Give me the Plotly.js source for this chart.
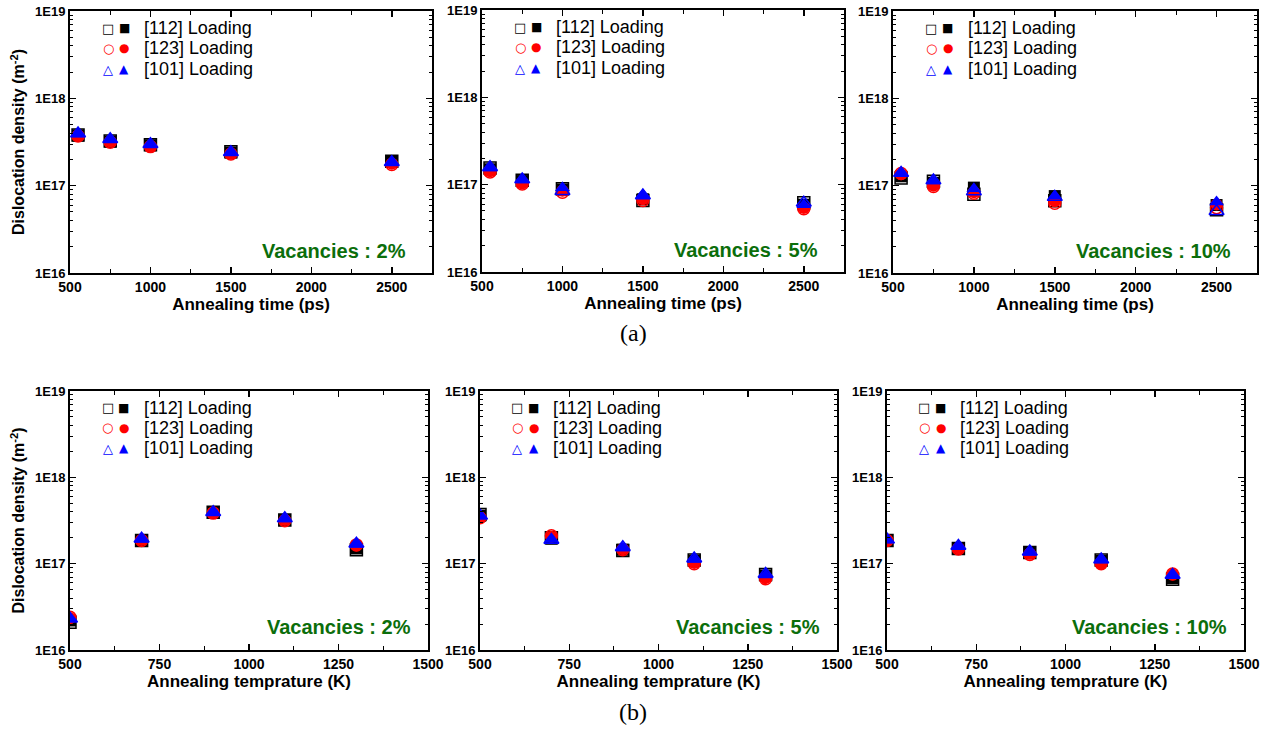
<!DOCTYPE html>
<html>
<head>
<meta charset="utf-8">
<script src="https://cdn.plot.ly/plotly-3.0.1.min.js"></script>
<style>html,body{margin:0;padding:0;background:#fff;}#chart{width:1273px;height:731px;}</style>
</head>
<body>
<div id="chart"></div>
<script>
// ---- Data ----
const timeX = [550, 750, 1000, 1500, 2500];
const tempX = [500, 700, 900, 1100, 1300];

// (a) Annealing time, Vacancies 2%
const a2_112_open = [3.8e17, 3.25e17, 2.95e17, 2.45e17, 1.9e17];
const a2_112_fill = [3.75e17, 3.2e17, 2.9e17, 2.4e17, 1.88e17];
const a2_123_open = [3.7e17, 3.15e17, 2.8e17, 2.3e17, 1.75e17];
const a2_123_fill = [3.72e17, 3.2e17, 2.82e17, 2.32e17, 1.78e17];
const a2_101_open = [3.95e17, 3.4e17, 2.98e17, 2.42e17, 1.85e17];
const a2_101_fill = [3.9e17, 3.35e17, 2.95e17, 2.4e17, 1.85e17];
// (a) Vacancies 5%
const a5_112_open = [1.55e17, 1.12e17, 9.0e16, 6.6e16, 6.2e16];
const a5_112_fill = [1.5e17, 1.1e17, 8.8e16, 6.8e16, 5.9e16];
const a5_123_open = [1.4e17, 1.02e17, 8.2e16, 6.6e16, 5.3e16];
const a5_123_fill = [1.42e17, 1.03e17, 8.5e16, 6.8e16, 5.4e16];
const a5_101_open = [1.58e17, 1.15e17, 8.4e16, 7.5e16, 6.2e16];
const a5_101_fill = [1.55e17, 1.13e17, 9.2e16, 7.6e16, 5.9e16];
// (a) Vacancies 10%
const a10_112_open = [1.22e17, 1.12e17, 8.0e16, 6.7e16, 5.3e16];
const a10_112_fill = [1.28e17, 1.08e17, 9.5e16, 7.6e16, 6.0e16];
const a10_123_open = [1.38e17, 0.98e17, 8.2e16, 6.3e16, 5.6e16];
const a10_123_fill = [1.35e17, 1.0e17, 8.4e16, 6.6e16, 6.1e16];
const a10_101_open = [1.4e17, 1.15e17, 8.6e16, 7.4e16, 5.1e16];
const a10_101_fill = [1.38e17, 1.13e17, 9.2e16, 7.6e16, 6.5e16];
// (b) Annealing temperature, Vacancies 2%
const b2_112_open = [2.1e16, 1.85e17, 3.95e17, 3.2e17, 1.45e17];
const b2_112_fill = [2.2e16, 1.85e17, 3.9e17, 3.2e17, 1.5e17];
const b2_123_open = [2.4e16, 1.85e17, 3.85e17, 3.15e17, 1.65e17];
const b2_123_fill = [2.35e16, 1.88e17, 3.9e17, 3.2e17, 1.62e17];
const b2_101_open = [2.3e16, 1.95e17, 3.95e17, 3.35e17, 1.7e17];
const b2_101_fill = [2.3e16, 1.92e17, 3.95e17, 3.3e17, 1.68e17];
// (b) Vacancies 5%
const b5_112_open = [3.7e17, 2.0e17, 1.42e17, 1.1e17, 7.5e16];
const b5_112_fill = [3.6e17, 1.95e17, 1.45e17, 1.08e17, 7.3e16];
const b5_123_open = [3.4e17, 2.1e17, 1.45e17, 1.0e17, 6.7e16];
const b5_123_fill = [3.45e17, 2.05e17, 1.47e17, 1.02e17, 6.8e16];
const b5_101_open = [3.6e17, 1.88e17, 1.55e17, 1.15e17, 7.6e16];
const b5_101_fill = [3.6e17, 1.9e17, 1.52e17, 1.12e17, 7.4e16];
// (b) Vacancies 10%
const b10_112_open = [1.85e17, 1.5e17, 1.35e17, 1.1e17, 6.6e16];
const b10_112_fill = [1.88e17, 1.52e17, 1.33e17, 1.08e17, 6.8e16];
const b10_123_open = [1.85e17, 1.48e17, 1.28e17, 1.0e17, 7.6e16];
const b10_123_fill = [1.86e17, 1.5e17, 1.3e17, 1.0e17, 7.5e16];
const b10_101_open = [1.9e17, 1.6e17, 1.38e17, 1.12e17, 7.4e16];
const b10_101_fill = [1.88e17, 1.58e17, 1.35e17, 1.1e17, 7.3e16];

const seriesNames = ['[112] Loading', '[123] Loading', '[101] Loading'];
const vacancyLabels = ['Vacancies : 2%', 'Vacancies : 5%', 'Vacancies : 10%'];
const yTickVals = [1e16, 1e17, 1e18, 1e19];
const yTickText = ['1E16', '1E17', '1E18', '1E19'];

// ---- Build ----
const panels = [
  {x: timeX, s: [[a2_112_open, a2_112_fill], [a2_123_open, a2_123_fill], [a2_101_open, a2_101_fill]]},
  {x: timeX, s: [[a5_112_open, a5_112_fill], [a5_123_open, a5_123_fill], [a5_101_open, a5_101_fill]]},
  {x: timeX, s: [[a10_112_open, a10_112_fill], [a10_123_open, a10_123_fill], [a10_101_open, a10_101_fill]]},
  {x: tempX, s: [[b2_112_open, b2_112_fill], [b2_123_open, b2_123_fill], [b2_101_open, b2_101_fill]]},
  {x: tempX, s: [[b5_112_open, b5_112_fill], [b5_123_open, b5_123_fill], [b5_101_open, b5_101_fill]]},
  {x: tempX, s: [[b10_112_open, b10_112_fill], [b10_123_open, b10_123_fill], [b10_101_open, b10_101_fill]]}
];
const colors = ['#000000', '#ff0000', '#0000ff'];
const symbols = ['square', 'circle', 'triangle-up'];
const sizes = [12, 12, 13];

const domainsX = [[70,432],[482,844],[893,1257],[70,428],[480,837],[887,1244]];
const domainsY = [[11,273],[10,272],[11,273],[391,650],[391,650],[391,650]];
const W = 1273, H = 731;

const minorY = [];
for (let e = 16; e < 19; e++) for (let m = 2; m <= 9; m++) minorY.push(m * Math.pow(10, e));

const traces = [];
const baseFont = 'Liberation Sans, Arial, sans-serif';
const layout = {
  width: W, height: H,
  margin: {l: 0, r: 0, t: 0, b: 0},
  paper_bgcolor: '#fff', plot_bgcolor: '#fff',
  showlegend: false,
  font: {family: baseFont, color: '#000'},
  annotations: []
};

panels.forEach((p, i) => {
  const n = i + 1;
  const xa = 'x' + (n === 1 ? '' : n), ya = 'y' + (n === 1 ? '' : n);
  const xk = 'xaxis' + (n === 1 ? '' : n), yk = 'yaxis' + (n === 1 ? '' : n);
  p.s.forEach((pair, k) => {
    traces.push({x: p.x, y: pair[0], xaxis: xa, yaxis: ya, type: 'scatter', mode: 'markers',
      name: seriesNames[k] + ' open',
      marker: {symbol: symbols[k] + '-open', size: sizes[k], color: colors[k], line: {width: 1.5, color: colors[k]}}});
    traces.push({x: p.x, y: pair[1], xaxis: xa, yaxis: ya, type: 'scatter', mode: 'markers',
      name: seriesNames[k],
      marker: {symbol: symbols[k], size: sizes[k], color: colors[k], line: {width: 0}}});
  });
  const isTime = i < 3;
  const dx = domainsX[i], dy = domainsY[i];
  layout[xk] = {
    domain: [dx[0] / W, dx[1] / W],
    anchor: ya,
    range: isTime ? [500, 2750] : [500, 1500],
    tickmode: 'linear', tick0: 500, dtick: isTime ? 500 : 250,
    ticks: 'inside', ticklen: 6, tickwidth: 1.5, tickcolor: '#000',
    minor: {dtick: isTime ? 250 : 125, tick0: 500, ticks: 'inside', ticklen: 4, tickwidth: 1, tickcolor: '#000', showgrid: false},
    showline: true, linewidth: 2, linecolor: '#000', mirror: 'allticks',
    showgrid: false, zeroline: false,
    tickfont: {family: baseFont, size: 14, color: '#000', weight: 'bold'},
    title: {text: isTime ? 'Annealing time (ps)' : 'Annealing temprature (K)',
      font: {family: baseFont, size: 17, color: '#000', weight: 'bold'}, standoff: 2}
  };
  layout[yk] = {
    domain: [1 - dy[1] / H, 1 - dy[0] / H],
    anchor: xa,
    type: 'log', range: [16, 19],
    tickmode: 'array', tickvals: yTickVals, ticktext: yTickText,
    ticks: 'inside', ticklen: 6, tickwidth: 1.5, tickcolor: '#000',
    minor: {tickmode: 'array', tickvals: minorY, ticks: 'inside', ticklen: 3, tickwidth: 1, tickcolor: '#000', showgrid: false},
    showline: true, linewidth: 2, linecolor: '#000', mirror: 'allticks',
    showgrid: false, zeroline: false,
    tickfont: {family: baseFont, size: 13, color: '#000', weight: 'bold'}
  };
  if (i === 0 || i === 3) {
    layout[yk].title = {text: 'Dislocation density (m<sup>-2</sup>)',
      font: {family: baseFont, size: 16, color: '#000', weight: 'bold'}, standoff: 6};
  }
  // legend via annotations
  const xr = xa + ' domain', yr = ya + ' domain';
  const rowY = [0.935, 0.858, 0.778];
  const openSym = ['\u25A1', '\u25CB', '\u25B3'];
  const fillSym = ['\u25A0', '\u25CF', '\u25B2'];
  for (let k = 0; k < 3; k++) {
    layout.annotations.push({xref: xr, yref: yr, x: 0.105, y: rowY[k], text: openSym[k], showarrow: false,
      xanchor: 'center', yanchor: 'middle', font: {family: 'DejaVu Sans', size: 13, color: colors[k]}});
    layout.annotations.push({xref: xr, yref: yr, x: 0.150, y: rowY[k], text: fillSym[k], showarrow: false,
      xanchor: 'center', yanchor: 'middle', font: {family: 'DejaVu Sans', size: 12, color: colors[k]}});
    layout.annotations.push({xref: xr, yref: yr, x: 0.200, y: rowY[k], text: seriesNames[k], showarrow: false,
      xanchor: 'left', yanchor: 'middle', font: {family: baseFont, size: 18, color: '#000'}});
  }
  layout.annotations.push({xref: xr, yref: yr, x: isTime ? 0.935 : 0.957, y: isTime ? 0.084 : 0.089,
    text: vacancyLabels[i % 3], showarrow: false, xanchor: 'right', yanchor: 'middle',
    font: {family: baseFont, size: 20, color: '#0b6e0b', weight: 'bold'}});
});

layout.annotations.push({xref: 'paper', yref: 'paper', x: 633 / W, y: 1 - 333 / H, text: '(a)', showarrow: false,
  xanchor: 'center', yanchor: 'middle', font: {family: 'Liberation Serif, Times New Roman, serif', size: 24, color: '#000'}});
layout.annotations.push({xref: 'paper', yref: 'paper', x: 633 / W, y: 1 - 712 / H, text: '(b)', showarrow: false,
  xanchor: 'center', yanchor: 'middle', font: {family: 'Liberation Serif, Times New Roman, serif', size: 24, color: '#000'}});

Plotly.newPlot('chart', traces, layout, {displayModeBar: false, staticPlot: true});
</script>
</body>
</html>
